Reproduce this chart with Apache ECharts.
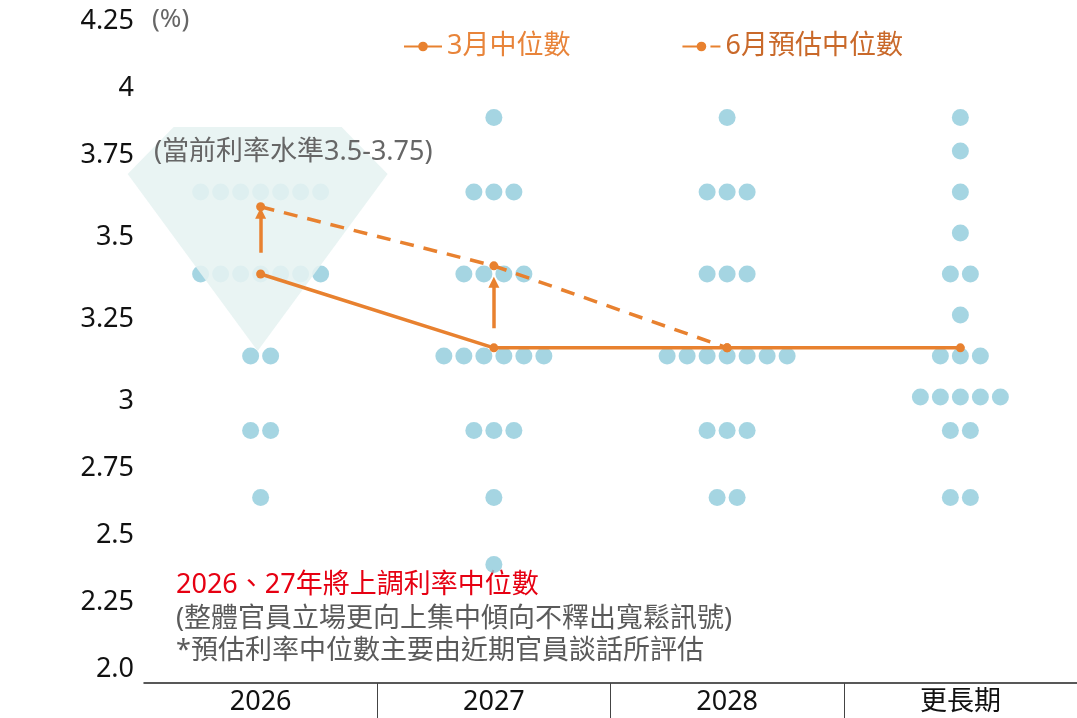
<!DOCTYPE html>
<html>
<head>
<meta charset="utf-8">
<script src="https://cdn.jsdelivr.net/npm/echarts@6/dist/echarts.min.js"></script>
<style>
html,body{margin:0;padding:0;background:#fff;}
#chart{width:1077px;height:718px;}
</style>
</head>
<body>
<div id="chart"></div>
<script>
// ---------------- DATA ----------------
const categories = ['2026', '2027', '2028', '更長期'];
const dotRates = [3.875, 3.75, 3.625, 3.5, 3.375, 3.25, 3.125, 3.0, 2.875, 2.625, 2.375];
const dotCounts2026 = [0, 0, 7, 0, 7, 0, 2, 0, 2, 1, 0];
const dotCounts2027 = [1, 0, 3, 0, 4, 0, 6, 0, 3, 1, 1];
const dotCounts2028 = [1, 0, 3, 0, 3, 0, 7, 0, 3, 2, 0];
const dotCountsLonger = [1, 1, 1, 1, 2, 1, 3, 5, 2, 2, 0];
const marchMedian = [3.375, 3.15, 3.15, 3.15];
const juneEstimate = [3.58, 3.40, 3.15, null];
const arrow2026 = [3.44, 3.56];
const arrow2027 = [3.21, 3.35];
const currentBand = [3.14, 3.68, 3.84]; // gem annotation: bottom, shoulder, top
const yTickValues = [2.0, 2.25, 2.5, 2.75, 3.0, 3.25, 3.5, 3.75, 4.0, 4.25];
const yTickLabels = ['2.0', '2.25', '2.5', '2.75', '3', '3.25', '3.5', '3.75', '4', '4.25'];
const legendNames = ['3月中位數', '6月預估中位數'];

// ---------------- SCALE (band 3.0–3.75 is drawn stretched) ----------------
const STRETCH_LO = 3.0, STRETCH_HI = 3.75, STRETCH = 1.224;
function sy(v) {
  if (v <= STRETCH_LO) return v;
  if (v <= STRETCH_HI) return STRETCH_LO + (v - STRETCH_LO) * STRETCH;
  return STRETCH_LO + (STRETCH_HI - STRETCH_LO) * STRETCH + (v - STRETCH_HI);
}

const ORANGE = '#E8812F';
const DOT = '#8ECBDB';
const FONT = '"Noto Sans", "Noto Sans CJK TC", sans-serif';

const allCounts = [dotCounts2026, dotCounts2027, dotCounts2028, dotCountsLonger];
const dotData = [];
allCounts.forEach((counts, ci) => {
  counts.forEach((n, ri) => {
    for (let i = 0; i < n; i++) {
      dotData.push({
        value: [ci, sy(dotRates[ri])],
        symbolOffset: [(i - (n - 1) / 2) * 20, 0]
      });
    }
  });
});

const chart = echarts.init(document.getElementById('chart'));
chart.setOption({
  animation: false,
  backgroundColor: '#fff',
  textStyle: { fontFamily: FONT },
  grid: { left: 144, right: 0, top: 17, bottom: 35 },
  legend: {
    data: [
      { name: legendNames[0], textStyle: { color: '#E8843A' } },
      { name: legendNames[1], textStyle: { color: '#C9692A' }, lineStyle: { type: [19, 9] } }
    ],
    left: 398, top: 28,
    itemWidth: 38, itemHeight: 12, itemGap: 111,
    textStyle: { fontSize: 27, fontFamily: FONT }
  },
  xAxis: {
    type: 'category',
    data: categories,
    axisLine: { lineStyle: { color: '#222', width: 1.5 } },
    axisTick: { show: true, length: 36, lineStyle: { color: '#444', width: 1 }, interval: function (i) { return i !== 0; } },
    axisLabel: { fontSize: 27, color: '#111', margin: 6, fontFamily: FONT }
  },
  yAxis: {
    type: 'value',
    min: sy(2.0) - 0.067,
    max: sy(4.25),
    axisLine: { show: false },
    axisTick: { show: false },
    splitLine: { show: false },
    axisLabel: {
      customValues: yTickValues.map(sy),
      formatter: function (v) {
        for (let i = 0; i < yTickValues.length; i++) {
          if (Math.abs(sy(yTickValues[i]) - v) < 1e-6) return yTickLabels[i];
        }
        return '';
      },
      fontSize: 27, color: '#111', margin: 10, verticalAlign: 'top', lineHeight: 8, fontFamily: FONT
    }
  },
  series: [
    {
      type: 'scatter',
      z: 1,
      symbol: 'circle',
      symbolSize: 17,
      itemStyle: { color: DOT },
      data: dotData,
      silent: true
    },
    {
      type: 'custom',
      z: 2,
      silent: true,
      data: [[0]],
      renderItem: function (params, api) {
        const top = api.coord([0, sy(currentBand[2])]);
        const sh = api.coord([0, sy(currentBand[1])]);
        const bot = api.coord([0, sy(currentBand[0])]);
        const cx = bot[0] - 3;
        return {
          type: 'polygon',
          shape: {
            points: [
              [cx - 84, top[1]], [cx + 84, top[1]], [cx + 130, sh[1]],
              [cx, bot[1]], [cx - 130, sh[1]]
            ]
          },
          style: { fill: 'rgba(230,243,241,0.88)' }
        };
      }
    },
    {
      name: legendNames[0],
      type: 'line',
      z: 5,
      data: marchMedian.map(sy),
      symbol: 'circle',
      symbolSize: 9,
      itemStyle: { color: ORANGE },
      lineStyle: { color: ORANGE, width: 3.5 }
    },
    {
      name: legendNames[1],
      type: 'line',
      z: 5,
      data: juneEstimate.map(v => v == null ? null : sy(v)),
      symbol: 'circle',
      symbolSize: 9,
      itemStyle: { color: ORANGE },
      lineStyle: { color: ORANGE, width: 3.5, type: [14, 10] }
    },
    {
      type: 'lines',
      coordinateSystem: 'cartesian2d',
      z: 5,
      silent: true,
      symbol: ['none', 'triangle'],
      symbolSize: 11,
      lineStyle: { color: ORANGE, width: 3.5, opacity: 1 },
      data: [
        { coords: [[0, sy(arrow2026[0])], [0, sy(arrow2026[1])]] },
        { coords: [[1, sy(arrow2027[0])], [1, sy(arrow2027[1])]] }
      ]
    }
  ],
  graphic: [
    { type: 'text', left: 152, top: 7, style: { text: '(%)', fill: '#666', font: '26px ' + FONT } },
    { type: 'text', left: 154, top: 139, z: 10, style: { text: '(當前利率水準3.5-3.75)', fill: '#666', font: '27px ' + FONT } },
    { type: 'text', left: 176, top: 572, style: { text: '2026、27年將上調利率中位數', fill: '#E60012', font: '27px ' + FONT } },
    { type: 'text', left: 176, top: 606, style: { text: '(整體官員立場更向上集中傾向不釋出寬鬆訊號)', fill: '#5a5a5a', font: '27px ' + FONT } },
    { type: 'text', left: 176, top: 638, style: { text: '*預估利率中位數主要由近期官員談話所評估', fill: '#5a5a5a', font: '27px ' + FONT } }
  ]
});
</script>
</body>
</html>
